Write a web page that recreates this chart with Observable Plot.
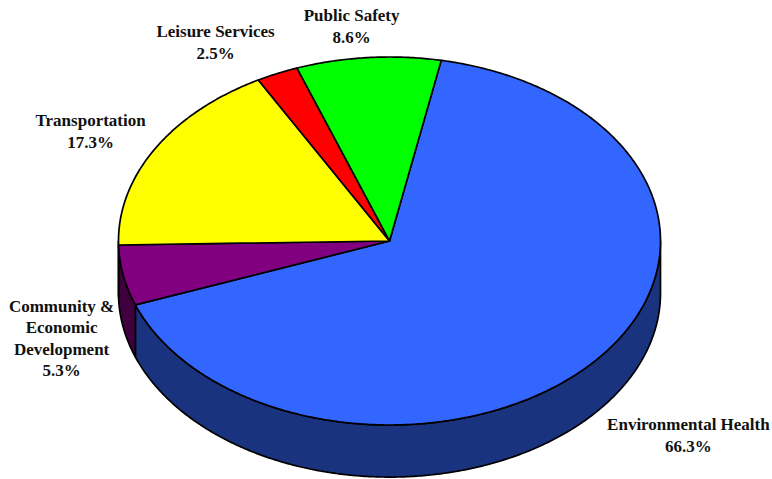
<!DOCTYPE html>
<html>
<head>
<meta charset="utf-8">
<script src="https://cdn.jsdelivr.net/npm/d3@7"></script>
<script src="https://cdn.jsdelivr.net/npm/@observablehq/plot@0.6"></script>
<style>
html,body{margin:0;padding:0;background:#fff}
svg{display:block}
</style>
</head>
<body>
<div id="chart"></div>
<script>
const categories = ["Environmental Health", "Community &\nEconomic\nDevelopment", "Transportation", "Leisure Services", "Public Safety"];
const shares = [66.3, 5.3, 17.3, 2.5, 8.6];
const topColors = ["#3366ff", "#800080", "#ffff00", "#ff0000", "#00ff00"];
const sideColors = ["#1a337f", "#400040", "#808000", "#800000", "#008000"];
const startAngle = 11.0;
const depth = 0.283;
const labelX = [1.103, -1.21, -1.103, -0.642, -0.14];
const labelY = [-1.05, -0.522, 0.603, 1.087, 1.174];

const rad = d => d * Math.PI / 180;
const pt = (a, drop = 0) => ({x: Math.sin(rad(a)), y: Math.cos(rad(a)) - drop});
const arc = (a0, a1, drop = 0) => {
  const n = Math.max(2, Math.ceil(Math.abs(a1 - a0) * 2));
  return d3.range(n + 1).map(i => pt(a0 + (a1 - a0) * i / n, drop));
};

let cursor = startAngle;
const slices = categories.map((name, i) => {
  const a0 = cursor, a1 = cursor + shares[i] * 3.6;
  cursor = a1;
  return {name, i, a0, a1};
});

const topRows = slices.flatMap(s =>
  [{x: 0, y: 0}, ...arc(s.a0, s.a1)].map(p => ({...p, name: s.name, color: topColors[s.i]}))
);
const wallRows = slices.flatMap(s => {
  const a0 = Math.max(s.a0, 90), a1 = Math.min(s.a1, 270);
  if (a1 <= a0) return [];
  return [...arc(a0, a1), ...arc(a1, a0, depth)].map(p => ({...p, name: s.name, color: sideColors[s.i]}));
});
const labels = slices.map(s => ({
  text: `${s.name}\n${shares[s.i].toFixed(1)}%`,
  x: labelX[s.i],
  y: labelY[s.i]
}));

const shape = rows => Plot.line(rows, {
  x: "x", y: "y", z: "name", fill: "color",
  stroke: "black", strokeWidth: 1.7,
  curve: "linear-closed", strokeLinejoin: "round"
});

document.getElementById("chart").append(Plot.plot({
  width: 772,
  height: 479,
  margin: 0,
  axis: null,
  x: {domain: [-1, 1], range: [118, 660]},
  y: {domain: [1, -1 - depth], range: [56.5, 424.5 + depth * 184]},
  color: {type: "identity"},
  style: {background: "#fff"},
  marks: [
    shape(wallRows),
    shape(topRows),
    Plot.text(labels, {
      x: "x", y: "y", text: "text",
      fontFamily: "Liberation Serif",
      fontWeight: "bold",
      fontSize: 17,
      lineHeight: 1.26,
      fill: "#111"
    })
  ]
}));
</script>
</body>
</html>
